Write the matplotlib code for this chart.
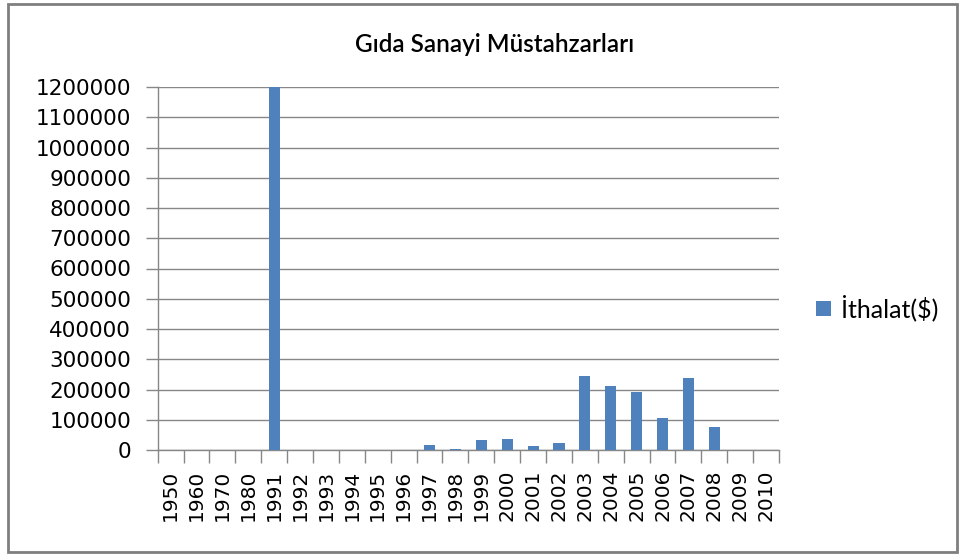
import numpy as np
import matplotlib.pyplot as plt
from matplotlib.patches import Rectangle

years = ["1950", "1960", "1970", "1980", "1991", "1992", "1993", "1994", "1995",
         "1996", "1997", "1998", "1999", "2000", "2001", "2002", "2003", "2004",
         "2005", "2006", "2007", "2008", "2009", "2010"]
ithalat = [0, 0, 0, 0, 1200000, 0, 0, 0, 0,
           0, 16500, 4000, 33000, 36000, 13000, 24000, 246000, 210000,
           193000, 105000, 237000, 77000, 0, 0]

title = "Gıda Sanayi Müstahzarları"
legend_label = "İthalat($)"

if __name__ == "__main__":
    W, H = 960, 554
    fig = plt.figure(figsize=(W / 100, H / 100), dpi=100)
    ax = fig.add_axes([157.7 / W, (H - 450) / H, (779 - 157.7) / W, (450 - 87) / H])

    x = np.arange(len(years))
    ax.bar(x, ithalat, width=0.43, color="#4F81BD", label=legend_label, zorder=3)

    ax.set_xlim(-0.5, len(years) - 0.5)
    ax.set_ylim(0, 1200000)
    ax.set_yticks(np.arange(0, 1200001, 100000))
    ax.set_yticklabels([str(v) for v in range(0, 1200001, 100000)], fontsize=15.5,
                       family="DejaVu Sans")
    ax.yaxis.grid(True, color="#878787", linewidth=1, zorder=0)

    ax.set_xticks(x)
    ax.set_xticklabels(years, rotation=90, fontsize=14.5, family="DejaVu Sans")
    ax.tick_params(axis="x", length=0, pad=14)
    ax.set_xticks(np.arange(-0.5, len(years)), minor=True)
    ax.tick_params(axis="x", which="minor", length=9, color="#878787", width=1)
    ax.tick_params(axis="y", length=9, color="#878787", width=1, pad=10)

    for s in ["top", "right"]:
        ax.spines[s].set_visible(False)
    for s in ["left", "bottom"]:
        ax.spines[s].set_color("#878787")
        ax.spines[s].set_linewidth(1)

    fig.text(495 / W, 1 - 45 / H, title, ha="center", va="center",
             fontsize=17.5, family="Lato", fontweight="semibold")

    ax.legend(loc="center left", bbox_to_anchor=(816 / W, 1 - 308 / H),
              bbox_transform=fig.transFigure, frameon=False, handlelength=0.6,
              handleheight=0.6, handletextpad=0.4, borderpad=0, borderaxespad=0,
              prop={"family": "Lato", "size": 18})

    fig.patches.append(Rectangle((8 / W, 2 / H), (957 - 8) / W, (550 - 2) / H,
                                 transform=fig.transFigure, fill=False,
                                 edgecolor="#7f7f7f", linewidth=2))

    fig.savefig("out.png", dpi=100)
